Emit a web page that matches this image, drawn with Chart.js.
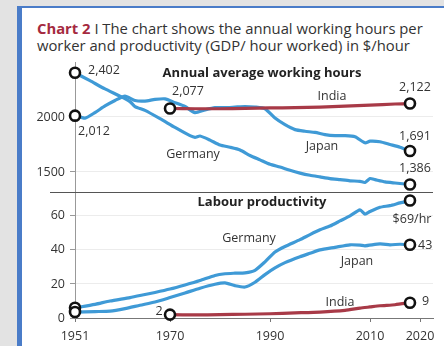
<!DOCTYPE html>
<html>
<head>
<meta charset="utf-8">
<script src="https://cdn.jsdelivr.net/npm/chart.js@4.4.1/dist/chart.umd.min.js"></script>
<style>
  body { margin: 0; width: 444px; height: 346px; overflow: hidden; background: #e3e3e3; font-family: "Open Sans", sans-serif; }
  #card { position: absolute; left: 17px; top: 6px; width: 440px; height: 345px; background: #fff;
          border-left: 5px solid #4a7cc8; border-top: 2px solid #4a7cc8; box-sizing: border-box; }
  #title { position: absolute; left: 37px; top: 20px; width: 404px; font-size: 14.8px; line-height: 17px; color: #333; }
  #title b { color: #a52a3f; }
  #wrap { position: absolute; left: 0; top: 0; width: 444px; height: 346px; }
</style>
</head>
<body>
<div id="card"></div>
<div id="title"><b>Chart 2</b> I The chart shows the annual working hours per worker and productivity (GDP/ hour worked) in $/hour</div>
<div id="wrap"><canvas id="chart"></canvas></div>
<script>
// Annual working hours per worker
const germanyHoursYears = [1951, 1954, 1957, 1960, 1962, 1963, 1965, 1968, 1971, 1974, 1975, 1976, 1978, 1980, 1982, 1984, 1986, 1988, 1990, 1992, 1994, 1996, 1998, 2000, 2002, 2004, 2006, 2008, 2009, 2010, 2011, 2013, 2015, 2018];
const germanyHours = [2402, 2330, 2255, 2190, 2140, 2095, 2060, 1985, 1905, 1830, 1815, 1827, 1790, 1745, 1725, 1700, 1650, 1610, 1570, 1545, 1515, 1490, 1470, 1455, 1440, 1430, 1420, 1415, 1405, 1440, 1430, 1410, 1400, 1386];
const japanHoursYears = [1951, 1953, 1955, 1957, 1959, 1961, 1963, 1965, 1967, 1969, 1971, 1973, 1975, 1977, 1979, 1981, 1983, 1985, 1987, 1989, 1991, 1993, 1995, 1997, 1999, 2001, 2003, 2005, 2007, 2009, 2010, 2012, 2014, 2016, 2018];
const japanHours = [2012, 1990, 2040, 2100, 2150, 2190, 2150, 2145, 2160, 2165, 2130, 2095, 2040, 2065, 2085, 2085, 2090, 2095, 2090, 2075, 1990, 1930, 1885, 1870, 1860, 1840, 1830, 1830, 1820, 1765, 1780, 1775, 1750, 1725, 1691];
const indiaHoursYears = [1970, 1975, 1980, 1985, 1990, 1995, 2000, 2005, 2010, 2015, 2018];
const indiaHours = [2077, 2075, 2075, 2078, 2082, 2085, 2090, 2098, 2108, 2118, 2122];

// Labour productivity, $ per hour worked
const germanyProdYears = [1951, 1955, 1958, 1962, 1965, 1967, 1970, 1973, 1976, 1979, 1981, 1983, 1985, 1987, 1989, 1991, 1993, 1996, 1998, 2000, 2002, 2004, 2006, 2008, 2009, 2010, 2012, 2014, 2016, 2018];
const germanyProd = [6, 8, 10, 12, 13.8, 15, 17, 19.4, 22, 25, 26, 26.3, 26.5, 28, 33, 38.8, 42, 46, 49, 51.8, 54, 57, 60, 63.5, 61, 62.5, 65, 66, 67.6, 69];
const japanProdYears = [1951, 1955, 1958, 1961, 1964, 1967, 1970, 1973, 1976, 1979, 1981, 1983, 1985, 1987, 1989, 1991, 1993, 1996, 1998, 2000, 2003, 2006, 2008, 2009, 2012, 2014, 2016, 2018];
const japanProd = [3.5, 3.8, 4, 5.5, 7.5, 9.4, 12, 14.7, 17.5, 19.8, 20.6, 19, 18.2, 21, 25.5, 29.4, 32.5, 36, 38, 40, 41.5, 43, 42.8, 42.4, 43.5, 43, 43.3, 43];
const indiaProdYears = [1970, 1975, 1980, 1985, 1990, 1995, 2000, 2005, 2008, 2010, 2012, 2015, 2018];
const indiaProd = [2, 1.8, 2, 2.2, 2.5, 3, 3.5, 4.5, 5.8, 6.5, 7.2, 7.8, 9];

const xTicks = [1951, 1970, 1990, 2010, 2020];
const hoursTicks = [1500, 2000];
const prodTicks = [0, 20, 40, 60];

const BLUE = '#3f9ad6';
const RED = '#a83a47';

// text notes placed in data coordinates: [text, axis, year, value, align, bold]
const notes = [
  ['Annual average working hours', 'hours', 1988.4, 2400, 'center', true],
  ['2,402', 'hours', 1953.6, 2427, 'left'],
  ['2,012', 'hours', 1951.6, 1873, 'left'],
  ['2,077', 'hours', 1973.6, 2236, 'center'],
  ['India', 'hours', 2002.4, 2191, 'center'],
  ['2,122', 'hours', 2019, 2273, 'center'],
  ['Germany', 'hours', 1974.6, 1655, 'center'],
  ['Japan', 'hours', 2000.4, 1736, 'center'],
  ['1,691', 'hours', 2019, 1827, 'center'],
  ['1,386', 'hours', 2019, 1536, 'center'],
  ['Labour productivity', 'prod', 1988.4, 68.2, 'center', true],
  ['Germany', 'prod', 1985.8, 46.5, 'center'],
  ['$69/hr', 'prod', 2018.4, 57.6, 'center'],
  ['43', 'prod', 2019.6, 42.6, 'left'],
  ['Japan', 'prod', 2007.4, 33.5, 'center'],
  ['India', 'prod', 2004, 9.4, 'center'],
  ['9', 'prod', 2020.4, 10, 'left'],
  ['2', 'prod', 1967.8, 3.6, 'center']
];

function pts(years, vals) {
  return years.map((y, i) => ({ x: y, y: vals[i] }));
}

// circle only on first and last point
function endRadius(ctx) {
  const n = ctx.dataset.data.length;
  return (ctx.dataIndex === 0 || ctx.dataIndex === n - 1) ? 5 : 0;
}

function series(label, years, vals, color, axis) {
  return {
    label: label,
    data: pts(years, vals),
    yAxisID: axis,
    borderColor: color,
    borderWidth: 3.2,
    tension: 0.2,
    clip: false,
    pointRadius: endRadius,
    pointHoverRadius: endRadius,
    pointBackgroundColor: '#fff',
    pointBorderColor: '#111',
    pointBorderWidth: 2.6
  };
}

const notesPlugin = {
  id: 'notes',
  beforeDatasetsDraw(chart) {
    // divider between the two panels
    const c = chart.ctx;
    const top = chart.scales.hours;
    c.save();
    c.strokeStyle = '#555';
    c.lineWidth = 1;
    c.beginPath();
    c.moveTo(top.left + 20, Math.round(top.bottom) + 0.5);
    c.lineTo(chart.chartArea.right, Math.round(top.bottom) + 0.5);
    c.stroke();
    c.restore();
  },
  afterDatasetsDraw(chart) {
    const c = chart.ctx;
    const xs = chart.scales.x;
    c.save();
    c.textBaseline = 'middle';
    notes.forEach(n => {
      c.font = (n[5] ? 'bold 13px' : '12.5px') + ' "Open Sans", sans-serif';
      c.fillStyle = n[5] ? '#222' : '#333';
      c.textAlign = n[4];
      c.fillText(n[0], xs.getPixelForValue(n[2]), chart.scales[n[1]].getPixelForValue(n[3]));
    });
    c.restore();
  }
};

const tickFont = { family: '"Open Sans", sans-serif', size: 12.5 };

new Chart(document.getElementById('chart'), {
  type: 'line',
  data: {
    datasets: [
      series('India hours', indiaHoursYears, indiaHours, RED, 'hours'),
      series('Japan hours', japanHoursYears, japanHours, BLUE, 'hours'),
      series('Germany hours', germanyHoursYears, germanyHours, BLUE, 'hours'),
      series('India productivity', indiaProdYears, indiaProd, RED, 'prod'),
      series('Japan productivity', japanProdYears, japanProd, BLUE, 'prod'),
      series('Germany productivity', germanyProdYears, germanyProd, BLUE, 'prod')
    ]
  },
  options: {
    responsive: true,
    maintainAspectRatio: false,
    animation: false,
    layout: { padding: { left: 30, top: 62, right: 11, bottom: 4 } },
    plugins: { legend: { display: false }, tooltip: { enabled: false } },
    scales: {
      x: {
        type: 'linear', min: 1951, max: 2022.6,
        afterBuildTicks: s => { s.ticks = xTicks.map(v => ({ value: v })); },
        afterFit: s => { s.height = 24; },
        ticks: { font: tickFont, color: '#333', padding: 7, maxRotation: 0, autoSkip: false, callback: v => String(v) },
        grid: { drawOnChartArea: false, tickLength: 4, color: '#777' },
        border: { color: '#777', dash: [1, 2] }
      },
      // stacked axes: first listed is drawn lowest
      prod: {
        type: 'linear', position: 'left', stack: 'panels', stackWeight: 126,
        min: 0, max: 74,
        afterBuildTicks: s => { s.ticks = prodTicks.map(v => ({ value: v })); },
        afterFit: s => { s.width = 45; },
        ticks: { font: tickFont, color: '#333', padding: 5, callback: v => String(v) },
        grid: { color: ctx => ctx.tick && ctx.tick.value === 0 ? 'rgba(0,0,0,0)' : '#ececec', tickColor: '#999', tickLength: 5 },
        border: { color: '#999' }
      },
      hours: {
        type: 'linear', position: 'left', stack: 'panels', stackWeight: 130,
        min: 1318, max: 2500,
        afterBuildTicks: s => { s.ticks = hoursTicks.map(v => ({ value: v })); },
        afterFit: s => { s.width = 45; },
        ticks: { font: tickFont, color: '#333', padding: 5, callback: v => String(v) },
        grid: { color: '#ececec', tickColor: '#999', tickLength: 5 },
        border: { color: '#999' }
      }
    }
  },
  plugins: [notesPlugin]
});
</script>
</body>
</html>
